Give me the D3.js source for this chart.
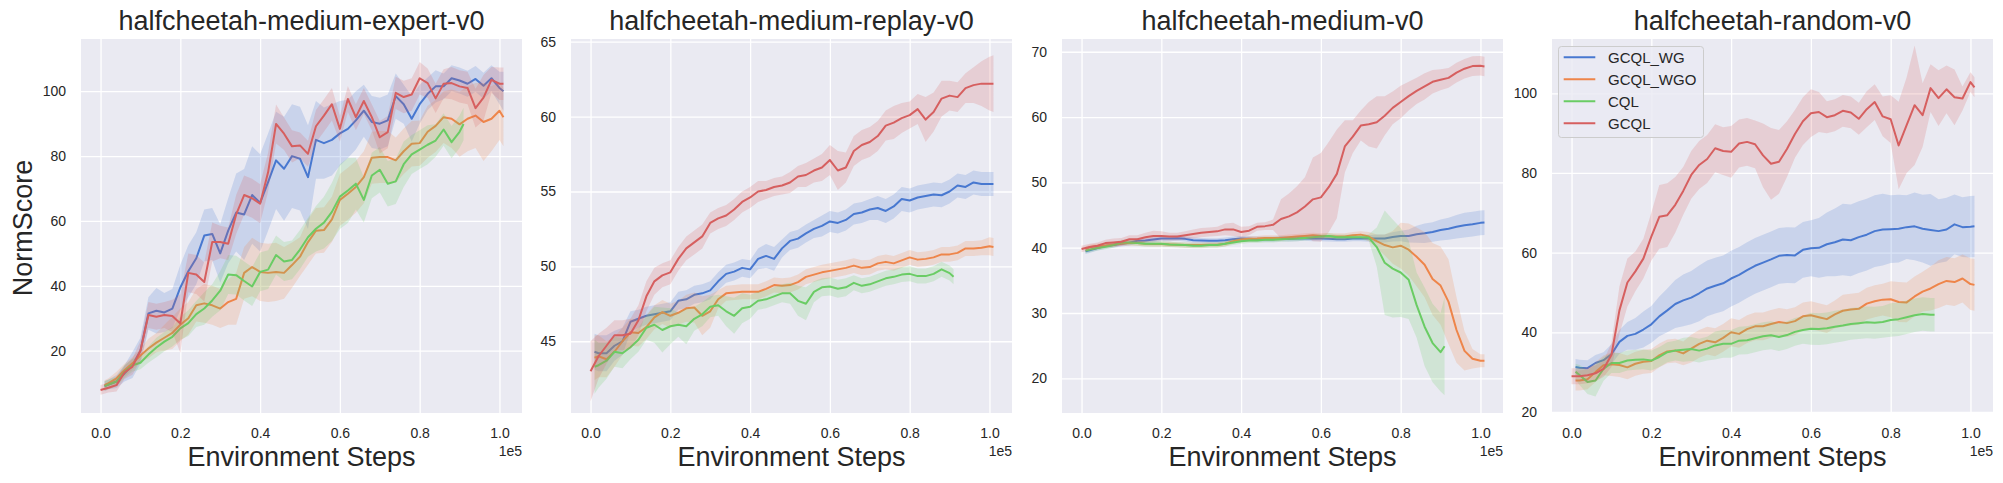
<!DOCTYPE html>
<html>
<head>
<meta charset="utf-8">
<script src="https://cdn.jsdelivr.net/npm/d3@7"></script>
<style>
  body { margin: 0; background: #ffffff; }
  svg { display: block; font-family: "Liberation Sans", Arial, Helvetica, sans-serif; }
</style>
</head>
<body>
<svg id="chart" width="2003" height="483"></svg>
<script>
// ---------------- DATA ----------------
const panelTitles = ["halfcheetah-medium-expert-v0", "halfcheetah-medium-replay-v0", "halfcheetah-medium-v0", "halfcheetah-random-v0"];
const seriesNames = ["GCQL_WG", "GCQL_WGO", "CQL", "GCQL"];
const xLabel = "Environment Steps";
const yLabel = "NormScore";
const xOffsetText = "1e5";
const xTicks = [0.0, 0.2, 0.4, 0.6, 0.8, 1.0];
const yTicks1 = [20, 40, 60, 80, 100];
const yTicks2 = [45, 50, 55, 60, 65];
const yTicks3 = [20, 30, 40, 50, 60, 70];
const yTicks4 = [20, 40, 60, 80, 100];

// environment steps in thousands
const stepsGCQL = [0,2,4,6,8,10,12,14,16,18,20,22,24,26,28,30,32,34,36,38,40,42,44,46,48,50,52,54,56,58,60,62,64,66,68,70,72,74,76,78,80,82,84,86,88,90,92,94,96,98,100,101];
const stepsWG   = [1,2,4,6,8,10,12,14,16,18,20,22,24,26,28,30,32,34,36,38,40,42,44,46,48,50,52,54,56,58,60,62,64,66,68,70,72,74,76,78,80,82,84,86,88,90,92,94,96,98,100,101];
const stepsCQL  = [1,2,4,6,8,10,12,14,16,18,20,22,24,26,28,30,32,34,36,38,40,42,44,46,48,50,52,54,56,58,60,62,64,66,68,70,72,74,76,78,80,82,84,86,88,90,91];

// panel 1: medium-expert (mean, half-width of band)
const p1WG = [9.1,9.6,10.5,13,15.6,20, 31.5,32.3,31.8,33,39.5, 44.5,48.5,55.5,56,50, 57,62.6,62,68,65.6, 72,78.7,76.1,80,79.2, 73.5,85,84,85,87, 88.4,91,94,90.5,90, 91,98.5,96,91.5,96, 99.2,101.5,101.5,104,103.3, 102.3,103.8,101.7,104,101, 100];
const p1WGsd = [1.5,1.5,2,2.5,4,4, 5,7,6,6,7, 8,8,8,8,9, 10,12,14,15,15, 15,15,16,16,16, 16,12,11,11,10, 9,9,8,8,8, 8,7,6,7,6, 5,5,4,4,4, 4,4,4,4,5, 6];
const p1WGO = [9.4,10,11.5,14,16.1,18.5, 20.7,22.5,24,25.5,28, 30,34,34.6,34,33, 35,36,44,45.8,44.3, 44,44.3,44,46.4,49, 53.5,57,57.2,60.5,66.5, 68.4,70.5,73.5,79.5,79.7, 79.7,78.7,81.5,83.8,84, 87.5,89.3,92,91.5,89.8, 91.5,92.5,90.5,91.5,94, 92];
const p1WGOsd = [1.5,1.5,2,2,2,2, 3,3,4,5,5, 5,5,6,6,6, 7,8,8,9,9, 9,9,8,7,6, 7,7,7,7,8, 8,8,8,8,8, 8,7,7,7,7, 8,8,8,9,10, 10,10,12,10,9, 9];
const p1CQL = [9.1,9.6,10.5,13.5,15.5,16.3, 18.8,21,22.8,24.3,26.9, 28.5,31.3,33,35.5,38.5, 43.5,43.3,41.5,39.8,44.3, 45,49.5,47.5,48,51.2, 55,57.6,59.5,62.8,67.5, 69.4,71.5,66.5,74,75.8, 71.5,72.2,77.5,80.5,82, 83.5,84.8,88.2,84.3,87.5, 89.9];
const p1CQLsd = [1.5,1.5,1.5,2,2,2, 2.5,3,3,3,3.5, 4,4,5,5,6, 6,6,6,6,6, 6,6,6,6,6, 6,7,8,9,10, 10,8,7,7,7, 7,7,7,6,6, 6,5,5,5,5, 5];
const p1GCQL = [7.9,8.6,9.4,13.3,15.1,20, 31,30.5,31,30.7,28.4, 44,43.5,41.2,53.5,53.5, 53,62,68,67,65.3, 75,89.9,86.9,83,83.3, 80.7,89.2,92.5,96,88.4, 97.6,92,97,92,85.8, 87.4,99.5,98.2,99,104, 102.5,97.8,102.3,102.5,101.5, 101,94.8,98,103.5,102.3, 102.3];
const p1GCQLsd = [1.5,1.5,2,2,2.5,3, 4,4,4,5,9, 6,6,6,6,5, 5,6,6,6,6, 6,6,5,5,4, 4,5,5,5,4, 4,4,4,4,5, 5,5,5,5,5, 4.5,4.5,4.5,5,5, 5,6,7,4,5, 5];

// panel 2: medium-replay
const p2WG = [44.3,44.2,44.2,44.7,45.0,46.3, 46.5,46.7,46.8,46.9,47.0, 47.7,47.8,48.1,48.2,48.4, 49.0,49.5,49.65,49.9,49.8, 50.5,50.7,50.5,51.2,51.7, 51.85,52.2,52.5,52.7,53.0, 52.9,53.1,53.5,53.6,53.8, 53.9,53.7,54.0,54.5,54.4, 54.6,54.7,54.8,54.75,55.0, 55.4,55.3,55.6,55.5,55.5, 55.5];
const p2WGsd = [1.2,1.2,1.2,1.0,0.9,0.7, 0.6,0.6,0.6,0.6,0.6, 0.6,0.6,0.6,0.6,0.6, 0.6,0.6,0.6,0.6,0.6, 0.7,0.8,0.8,0.6,0.6, 0.6,0.6,0.6,0.7,0.7, 0.7,0.7,0.7,0.7,0.7, 0.8,0.8,0.8,0.8,0.8, 0.8,0.8,0.8,0.8,0.8, 0.8,0.8,0.8,0.8,0.8, 0.8];
const p2WGO = [43.9,44.0,43.8,44.3,45.0,45.6, 45.55,45.95,46.6,46.95,46.7, 46.9,47.2,47.25,46.7,47.0, 47.8,48.2,48.25,48.3,48.3, 48.3,48.5,48.75,48.7,48.75, 48.95,49.3,49.45,49.6,49.7, 49.8,49.9,50.05,49.9,49.95, 50.2,50.3,50.2,50.4,50.6, 50.45,50.5,50.6,50.8,50.8, 50.9,51.2,51.2,51.25,51.35, 51.3];
const p2WGOsd = [1.5,1.4,1.2,1.0,0.9,0.9, 0.9,0.8,0.8,0.8,0.8, 0.8,0.9,1.0,1.3,1.1, 0.6,0.5,0.5,0.5,0.5, 0.5,0.5,0.5,0.5,0.5, 0.5,0.5,0.5,0.5,0.5, 0.5,0.5,0.5,0.5,0.5, 0.5,0.5,0.5,0.5,0.5, 0.5,0.5,0.5,0.5,0.5, 0.5,0.5,0.5,0.5,0.6, 0.6];
const p2CQL = [43.3,43.4,43.7,44.3,44.2,44.6, 45.1,45.9,46.1,45.75,46.0, 46.1,46.0,46.5,46.8,47.3, 47.4,47.0,46.7,47.2,47.3, 47.7,47.8,48.0,48.2,48.2, 47.7,47.5,48.3,48.6,48.65, 48.5,48.6,48.9,48.7,48.8, 49.0,49.2,49.3,49.45,49.5, 49.35,49.35,49.5,49.8,49.55, 49.3];
const p2CQLsd = [1.8,1.5,1.2,1.0,1.0,0.8, 0.8,0.8,1.2,1.5,1.2, 0.8,1.2,0.8,0.8,0.7, 0.7,1.0,1.2,1.0,0.8, 0.6,0.6,0.6,0.6,0.7, 1.0,1.1,0.7,0.6,0.6, 0.6,0.6,0.5,0.5,0.5, 0.5,0.5,0.5,0.5,0.5, 0.5,0.5,0.5,0.5,0.5, 0.5];
const p2GCQL = [43.0,44.0,44.7,45.4,45.4,45.5, 46.4,48.0,49.0,49.4,49.6, 50.5,51.2,51.6,52.0,52.9, 53.2,53.4,53.8,54.3,54.6, 55.0,55.1,55.3,55.4,55.6, 56.0,56.1,56.4,56.6,57.1, 56.4,56.6,57.7,58.1,58.3, 58.7,59.4,59.6,59.9,60.1, 60.5,59.8,60.3,61.2,61.4, 61.3,61.9,62.1,62.2,62.2, 62.2];
const p2GCQLsd = [2,1.5,1.2,1,1,1, 1,1,0.9,0.8,0.8, 0.8,0.8,0.8,0.8,0.7, 0.7,0.7,0.7,0.7,0.7, 0.7,0.6,0.6,0.6,0.7, 0.7,0.8,0.8,0.9,1.0, 1.3,1.0,1.0,1.0,1.0, 1.0,1.0,1.1,1.0,0.9, 1.0,1.5,1.3,1.2,1.0, 1.0,1.0,1.2,1.5,1.8, 1.9];

// panel 3: medium
const p3WG = [39.45,39.6,39.95,40.25,40.4,40.6, 40.75,41.05,41.1,41.25,41.4, 41.4,41.45,41.35,41.15,41.1, 41.05,41.05,41.15,41.3,41.4, 41.35,41.3,41.3,41.3,41.4, 41.35,41.4,41.45,41.4,41.4, 41.35,41.3,41.3,41.4,41.4, 41.4,41.4,41.4,41.65,41.8, 41.8,42.05,42.2,42.4,42.7, 42.9,43.2,43.45,43.6,43.8, 43.85];
const p3WGsd = [0.4,0.4,0.4,0.4,0.4,0.4, 0.4,0.4,0.4,0.4,0.4, 0.4,0.4,0.4,0.4,0.4, 0.4,0.4,0.4,0.4,0.4, 0.4,0.4,0.4,0.4,0.4, 0.4,0.4,0.4,0.4,0.4, 0.4,0.4,0.4,0.4,0.4, 0.5,0.6,0.6,0.7,0.8, 1.0,1.3,1.5,1.5,1.6, 1.7,1.8,1.9,1.9,1.9, 1.9];
const p3WGO = [39.8,40.05,40.25,40.35,40.5,40.65, 40.7,40.7,40.6,40.55,40.55, 40.5,40.45,40.4,40.4,40.4, 40.45,40.45,40.6,41.0,41.25, 41.35,41.4,41.5,41.5,41.5, 41.6,41.7,41.8,41.9,41.8, 41.75,41.7,41.7,41.9,42.0, 41.7,41.0,40.4,40.05,40.3, 39.7,38.6,37.4,35.2,34.2, 31.7,27.4,24.2,23.0,22.7, 22.7];
const p3WGOsd = [0.4,0.4,0.4,0.4,0.4,0.4, 0.4,0.4,0.4,0.4,0.4, 0.4,0.4,0.4,0.4,0.4, 0.4,0.4,0.4,0.4,0.4, 0.4,0.4,0.4,0.4,0.4, 0.4,0.4,0.4,0.4,0.4, 0.5,0.5,0.5,0.5,0.5, 0.7,1.0,1.6,2.5,3.5, 4,4.5,5,5.5,6, 6.5,5,3,1.5,1.0, 1.0];
const p3CQL = [39.55,39.7,39.95,40.15,40.4,40.8, 40.8,40.7,40.6,40.6,40.6, 40.5,40.45,40.4,40.3,40.3, 40.4,40.4,40.6,40.8,41.0, 41.1,41.1,41.2,41.2,41.3, 41.35,41.4,41.5,41.6,41.7, 41.8,41.6,41.6,41.6,41.6, 41.55,40.1,37.7,36.8,36.2, 35.1,31.2,27.9,25.4,24.0, 24.9];
const p3CQLsd = [0.4,0.4,0.4,0.4,0.4,0.4, 0.4,0.4,0.4,0.4,0.4, 0.4,0.4,0.4,0.4,0.4, 0.4,0.4,0.4,0.4,0.4, 0.4,0.4,0.4,0.4,0.4, 0.4,0.4,0.4,0.4,0.4, 0.4,0.4,0.4,0.4,0.4, 0.5,3,8,7.5,6.8, 6,5,6,6,6, 7.5];
const p3GCQL = [39.8,40.1,40.3,40.7,40.8,40.9, 41.3,41.3,41.6,41.8,41.8, 41.7,41.7,41.9,42.1,42.3, 42.4,42.5,42.8,42.8,42.4, 42.6,43.2,43.3,43.5,44.4, 44.8,45.4,46.3,47.4,47.7, 49.3,51.3,55.5,57.0,58.7, 58.9,59.2,60.2,61.4,62.3, 63.2,64.0,64.7,65.4,65.7, 66.0,66.8,67.4,67.8,67.85, 67.75];
const p3GCQLsd = [0.5,0.5,0.5,0.5,0.6,0.6, 0.6,0.6,0.7,0.8,0.7, 0.6,0.6,0.6,0.7,0.7, 0.7,0.7,0.9,1.0,0.8, 0.7,0.6,0.6,0.8,3, 3.5,4,4.5,6.4,6.8, 6.9,6.8,4,2.5,2.3, 3.4,4,3,2.5,2.5, 2.2,2,2,1.8,1.6, 1.5,1.5,1.5,1.5,1.5, 1.5];

// panel 4: random
const p4WG = [31.3,31.1,31.0,32.3,33.0,34.5, 37.6,39.1,39.6,40.7,42.0, 44.0,45.5,47.1,48.0,48.7, 49.8,51.0,51.7,52.3,53.5, 54.4,55.6,56.7,57.5,58.3, 59.2,59.4,59.3,60.7,61.1, 61.2,62.1,62.6,63.3,63.1, 63.9,64.5,65.4,65.8,65.9, 66.0,66.4,66.6,66.0,65.7, 65.4,65.8,67.1,66.4,66.5, 66.6];
const p4WGsd = [2,2,2,2,2,2.5, 3,3.5,4,4.5,4.6, 5,5.5,6,6.5,6.7, 7,7,7,7,7, 7,7,7,7,7, 7,7,7,7,7, 7.5,8,8.5,9,9, 9,9,9,9,8.5, 8.5,8,8.5,8.5,9, 8,8,7.5,7.5,7.7, 7.7];
const p4WGO = [27.9,27.9,28.2,30.0,31.7,32.0, 31.8,31.2,32.1,32.6,32.8, 34.2,35.2,35.4,34.7,35.9, 37.1,37.9,37.5,38.6,40.0, 39.6,40.8,41.5,41.5,42.1, 42.6,42.3,42.8,44.0,44.3, 43.8,43.3,44.5,45.4,45.7, 45.9,47.2,47.8,48.2,48.3, 47.6,47.5,49.0,50.2,51.0, 52.1,52.9,52.6,53.5,52.1, 51.9];
const p4WGOsd = [2.5,2.5,2.5,2.5,2.5,3, 3,3,3,3,3, 3,3,3,3,3.5, 3.5,3.5,3.5,3.5,3.5, 3.5,3.5,3.5,3.5,3.5, 3.5,3.5,3.5,3.5,3.5, 3.5,3.5,3.5,4,4, 4,4,4,4,4.5, 5,5,5,5,5.5, 6,6,6,6,6.5, 6.5];
const p4CQL = [30.1,29.3,27.5,27.9,30.8,32.3, 32.3,32.9,33.1,33.2,32.9, 33.8,35.0,35.4,35.6,35.8, 35.4,35.9,36.7,37.1,37.1, 37.9,38.0,38.5,39.0,39.25, 38.8,39.3,40.1,40.6,40.9, 40.8,41.0,41.4,41.7,42.1, 42.3,42.5,42.4,42.6,43.1, 43.3,43.8,44.3,44.6,44.4, 44.4];
const p4CQLsd = [2,2.5,3,4,3,2.5, 2.5,2.5,2.5,2.5,2.5, 2.5,2.5,2.5,3,3, 3,3,3.5,3.5,3.5, 3.5,3.5,3.5,3.5,3.5, 3.5,3.5,3.5,3.5,4, 4,4,4,4,4, 4,4,4,4,4.2, 4.2,4.2,4.2,4.2,4.2, 4.2];
const p4GCQL = [28.95,28.95,29.2,29.7,30.8,34.3, 45.5,52.5,55.3,58.5,64, 69,69.4,72,75.5,79.5, 82,83.5,86.2,85.5,85.3, 87.4,87.8,87.2,84.4,82.3, 82.8,86,89.8,93,95, 95.3,94.0,94.5,95.6,95.2, 93.6,96,97.8,94.2,93.5, 86.9,92,97,94.5,101.3, 98.8,101,99,98.7,102.8, 101.5];
const p4GCQLsd = [2,2,2,2,2,3, 6,6,5,5,6, 8,8,7,6,6, 6,6,6,6,6.5, 6,6,6,8,9, 8,7,6,6,6, 5,4,4,4,4, 4,4.5,4.5,5,6, 11,12,15,8,6, 7,6,7,3,2.5, 2.5];

// ---------------- LAYOUT / STYLE ----------------
const W = 2003, H = 483;
const panelLefts = [81, 571, 1062, 1552];
const PW = 441, TOP = 39, PH = 374;
const yDomains = [[0.8, 116.1], [40.21, 65.18], [14.69, 71.95], [19.74, 113.63]];
const xDomain = [-0.049, 1.0565];
const colors = ["#4878d0", "#ee854a", "#6acc64", "#d65f5f"];
const TXT = "#262626";
const FONT = '"Liberation Sans", Arial, Helvetica, sans-serif';

const panels = [
  { title: panelTitles[0], yTicks: yTicks1, series: [
    { steps: stepsWG, mean: p1WG, sd: p1WGsd }, { steps: stepsWG, mean: p1WGO, sd: p1WGOsd },
    { steps: stepsCQL, mean: p1CQL, sd: p1CQLsd }, { steps: stepsGCQL, mean: p1GCQL, sd: p1GCQLsd } ] },
  { title: panelTitles[1], yTicks: yTicks2, series: [
    { steps: stepsWG, mean: p2WG, sd: p2WGsd }, { steps: stepsWG, mean: p2WGO, sd: p2WGOsd },
    { steps: stepsCQL, mean: p2CQL, sd: p2CQLsd }, { steps: stepsGCQL, mean: p2GCQL, sd: p2GCQLsd } ] },
  { title: panelTitles[2], yTicks: yTicks3, series: [
    { steps: stepsWG, mean: p3WG, sd: p3WGsd }, { steps: stepsWG, mean: p3WGO, sd: p3WGOsd },
    { steps: stepsCQL, mean: p3CQL, sd: p3CQLsd }, { steps: stepsGCQL, mean: p3GCQL, sd: p3GCQLsd } ] },
  { title: panelTitles[3], yTicks: yTicks4, series: [
    { steps: stepsWG, mean: p4WG, sd: p4WGsd }, { steps: stepsWG, mean: p4WGO, sd: p4WGOsd },
    { steps: stepsCQL, mean: p4CQL, sd: p4CQLsd }, { steps: stepsGCQL, mean: p4GCQL, sd: p4GCQLsd } ] }
];

const svg = d3.select("#chart");
svg.append("rect").attr("width", W).attr("height", H).attr("fill", "#ffffff");

panels.forEach((p, i) => {
  const left = panelLefts[i];
  const g = svg.append("g").attr("transform", `translate(${left},${TOP})`);
  const x = d3.scaleLinear().domain(xDomain).range([0, PW]);
  const y = d3.scaleLinear().domain(yDomains[i]).range([PH, 0]);

  g.append("rect").attr("width", PW).attr("height", PH).attr("fill", "#eaeaf2");

  // y grid + labels
  const ya = g.append("g")
    .call(d3.axisLeft(y).tickValues(p.yTicks).tickSize(-PW).tickPadding(15).tickFormat(d3.format("d")));
  ya.select(".domain").remove();
  ya.attr("font-family", FONT).attr("font-size", 14);
  ya.selectAll(".tick line").attr("stroke", "#ffffff").attr("stroke-width", 1.3);
  ya.selectAll(".tick text").attr("fill", TXT);

  // x grid + labels
  const xa = g.append("g").attr("transform", `translate(0,${PH})`)
    .call(d3.axisBottom(x).tickValues(xTicks).tickSize(-PH).tickPadding(15).tickFormat(d3.format(".1f")));
  xa.select(".domain").remove();
  xa.attr("font-family", FONT).attr("font-size", 14);
  xa.selectAll(".tick line").attr("stroke", "#ffffff").attr("stroke-width", 1.3);
  xa.selectAll(".tick text").attr("fill", TXT);

  // clip
  const cid = "clip" + i;
  g.append("clipPath").attr("id", cid).append("rect").attr("width", PW).attr("height", PH);
  const plot = g.append("g").attr("clip-path", `url(#${cid})`);

  p.series.forEach((s, k) => {
    const pts = s.steps.map((st, j) => ({ x: st / 100, m: s.mean[j], b: s.sd[j] }));
    const area = d3.area().x(d => x(d.x)).y0(d => y(d.m - d.b)).y1(d => y(d.m + d.b));
    const line = d3.line().x(d => x(d.x)).y(d => y(d.m));
    plot.append("path").attr("d", area(pts)).attr("fill", colors[k]).attr("fill-opacity", 0.2).attr("stroke", "none");
    plot.append("path").attr("d", line(pts)).attr("fill", "none").attr("stroke", colors[k])
      .attr("stroke-width", 2).attr("stroke-linejoin", "round").attr("stroke-linecap", "butt");
  });

  // title
  svg.append("text").attr("x", left + PW / 2).attr("y", 29.5).attr("text-anchor", "middle")
    .attr("font-size", 27).attr("fill", TXT).text(p.title);
  // x label
  svg.append("text").attr("x", left + PW / 2).attr("y", 466).attr("text-anchor", "middle")
    .attr("font-size", 27).attr("fill", TXT).text(xLabel);
  // offset text
  svg.append("text").attr("x", left + PW).attr("y", 456).attr("text-anchor", "end")
    .attr("font-size", 14).attr("fill", TXT).text(xOffsetText);

  if (i === 3) {
    const lg = g.append("g").attr("transform", "translate(6.5,7.5)");
    lg.append("rect").attr("width", 145).attr("height", 91).attr("rx", 3)
      .attr("fill", "#eaeaf2").attr("fill-opacity", 0.8).attr("stroke", "#cccccc").attr("stroke-width", 1);
    seriesNames.forEach((name, k) => {
      const yy = 10.8 + k * 22;
      lg.append("line").attr("x1", 5.2).attr("x2", 36.8).attr("y1", yy).attr("y2", yy)
        .attr("stroke", colors[k]).attr("stroke-width", 2);
      lg.append("text").attr("x", 49.5).attr("y", yy).attr("dominant-baseline", "central")
        .attr("font-size", 15).attr("fill", TXT).text(name);
    });
  }
});

// y label (only first panel)
svg.append("text").attr("transform", "translate(31.5,228) rotate(-90)").attr("text-anchor", "middle")
  .attr("font-size", 27).attr("fill", TXT).text(yLabel);
</script>
</body>
</html>
